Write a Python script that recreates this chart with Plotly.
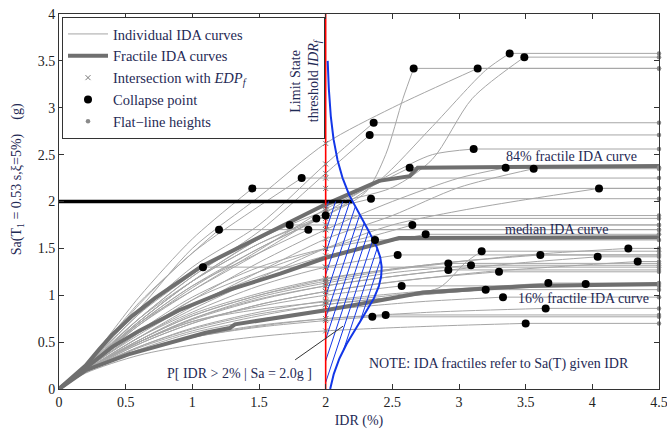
import numpy as np
import plotly.graph_objects as go

# ---------------- data ----------------
# Individual IDA curves: knots of the rising branch (IDR %, Sa g); the last knot is the collapse point
curve_idr = [
    [0, 0.2, 0.6, 1.0, 1.5, 2.0, 2.3, 2.45, 2.58, 2.66],
    [0, 0.2, 0.6, 1.0, 1.5, 2.0, 2.5, 3.14],
    [0, 0.2, 0.6, 1.0, 1.5, 2.0, 2.4, 2.8, 3.2, 3.38],
    [0, 0.2, 0.6, 1.0, 1.5, 2.0, 2.5, 2.8, 3.1, 3.49],
    [0, 0.2, 0.6, 1.0, 1.5, 2.0, 2.36],
    [0, 0.2, 0.6, 1.0, 1.5, 2.0, 2.33],
    [0, 0.2, 0.6, 1.0, 1.5, 2.0, 2.5, 2.8, 3.11],
    [0, 0.2, 0.6, 1.0, 1.5, 2.0, 2.4, 2.63],
    [0, 0.2, 0.6, 1.0, 1.5, 2.0, 2.5, 3.0, 3.35],
    [0, 0.2, 0.6, 1.0, 1.5, 2.0, 2.5, 3.0, 3.56],
    [0, 0.2, 0.6, 1.0, 1.5, 2.0, 2.5, 3.0, 3.5, 4.05],
    [0, 0.2, 0.6, 1.0, 1.45],
    [0, 0.2, 0.6, 1.0, 1.5, 1.82],
    [0, 0.2, 0.6, 1.0, 1.5, 2.0, 2.34],
    [0, 0.2, 0.6, 1.0, 1.2],
    [0, 0.2, 0.6, 1.08],
    [0, 0.2, 0.6, 1.0, 1.4, 1.73],
    [0, 0.2, 0.6, 1.0, 1.5, 1.87],
    [0, 0.2, 0.6, 1.0, 1.5, 1.93],
    [0, 0.2, 0.6, 1.0, 1.5, 2.0],
    [0, 0.2, 0.6, 1.0, 1.5, 2.0, 2.4, 2.65],
    [0, 0.2, 0.6, 1.0, 1.5, 2.0, 2.4, 2.75],
    [0, 0.2, 0.6, 1.0, 1.5, 2.0, 2.37],
    [0, 0.2, 0.6, 1.0, 1.5, 2.0, 2.54],
    [0, 0.2, 0.6, 1.0, 1.5, 2.0, 2.5, 2.85, 3.05, 3.17],
    [0, 0.2, 0.6, 1.0, 1.5, 2.0, 2.5, 3.0, 3.61],
    [0, 0.2, 0.6, 1.0, 1.5, 2.0, 2.5, 2.92],
    [0, 0.2, 0.6, 1.0, 1.5, 2.0, 2.5, 2.92],
    [0, 0.2, 0.6, 1.0, 1.5, 2.0, 2.5, 3.09],
    [0, 0.2, 0.6, 1.0, 1.5, 2.0, 2.6, 3.30],
    [0, 0.2, 0.6, 1.0, 1.5, 2.0, 2.7, 3.67],
    [0, 0.2, 0.6, 1.0, 1.5, 2.0, 2.57],
    [0, 0.2, 0.6, 1.0, 1.5, 2.0, 2.6, 3.20],
    [0, 0.2, 0.6, 1.0, 1.5, 2.0, 2.7, 3.33],
    [0, 0.2, 0.6, 1.0, 1.5, 2.0, 2.8, 3.65],
    [0, 0.2, 0.6, 1.0, 1.5, 2.0, 2.35],
    [0, 0.2, 0.6, 1.0, 1.5, 2.0, 2.45],
    [0, 0.2, 0.6, 1.0, 1.5, 2.0, 2.8, 3.50],
    [0, 0.2, 0.6, 1.0, 1.5, 2.0, 2.5, 3.0, 3.6, 4.27],
    [0, 0.2, 0.6, 1.0, 1.5, 2.0, 2.5, 3.0, 3.5, 4.04],
    [0, 0.2, 0.6, 1.0, 1.5, 2.0, 2.5, 3.2, 3.8, 4.34],
    [0, 0.2, 0.6, 1.0, 1.5, 2.0, 2.6, 3.2, 3.95],
]
curve_sa = [
    [0, 0.24, 0.75, 1.15, 1.55, 1.85, 2.1, 2.5, 3.1, 3.42],
    [0, 0.25, 0.85, 1.5, 2.05, 2.62, 3.0, 3.42],
    [0, 0.22, 0.7, 1.1, 1.5, 1.85, 2.22, 2.8, 3.4, 3.58],
    [0, 0.23, 0.72, 1.15, 1.6, 1.95, 2.15, 2.45, 3.1, 3.54],
    [0, 0.24, 0.8, 1.3, 1.75, 2.4, 2.84],
    [0, 0.22, 0.75, 1.2, 1.68, 2.3, 2.71],
    [0, 0.22, 0.7, 1.05, 1.45, 1.88, 2.3, 2.5, 2.56],
    [0, 0.22, 0.68, 1.05, 1.48, 1.92, 2.2, 2.36],
    [0, 0.21, 0.6, 0.95, 1.35, 1.7, 2.0, 2.25, 2.36],
    [0, 0.2, 0.55, 0.88, 1.25, 1.6, 1.85, 2.15, 2.35],
    [0, 0.2, 0.55, 0.85, 1.18, 1.5, 1.75, 1.9, 2.02, 2.14],
    [0, 0.26, 0.98, 1.6, 2.14],
    [0, 0.24, 0.9, 1.45, 1.95, 2.25],
    [0, 0.22, 0.72, 1.15, 1.6, 1.9, 2.03],
    [0, 0.25, 0.92, 1.45, 1.70],
    [0, 0.24, 0.8, 1.30],
    [0, 0.23, 0.75, 1.2, 1.55, 1.75],
    [0, 0.22, 0.7, 1.1, 1.45, 1.70],
    [0, 0.23, 0.72, 1.15, 1.55, 1.82],
    [0, 0.22, 0.68, 1.08, 1.5, 1.85],
    [0, 0.21, 0.6, 0.95, 1.25, 1.5, 1.65, 1.75],
    [0, 0.21, 0.58, 0.9, 1.2, 1.42, 1.55, 1.65],
    [0, 0.22, 0.62, 0.98, 1.3, 1.5, 1.59],
    [0, 0.2, 0.55, 0.82, 1.1, 1.3, 1.43],
    [0, 0.2, 0.5, 0.72, 0.85, 0.93, 1.0, 1.08, 1.35, 1.47],
    [0, 0.2, 0.52, 0.8, 1.02, 1.18, 1.28, 1.36, 1.43],
    [0, 0.2, 0.52, 0.78, 1.0, 1.15, 1.27, 1.34],
    [0, 0.2, 0.5, 0.74, 0.95, 1.1, 1.2, 1.27],
    [0, 0.2, 0.5, 0.75, 0.98, 1.13, 1.24, 1.32],
    [0, 0.19, 0.48, 0.7, 0.9, 1.04, 1.16, 1.25],
    [0, 0.19, 0.45, 0.65, 0.82, 0.94, 1.04, 1.13],
    [0, 0.2, 0.5, 0.72, 0.88, 1.0, 1.10],
    [0, 0.19, 0.45, 0.64, 0.8, 0.9, 0.99, 1.06],
    [0, 0.19, 0.42, 0.6, 0.74, 0.84, 0.93, 0.98],
    [0, 0.18, 0.4, 0.55, 0.67, 0.75, 0.82, 0.86],
    [0, 0.18, 0.4, 0.55, 0.66, 0.73, 0.77],
    [0, 0.18, 0.41, 0.56, 0.68, 0.75, 0.79],
    [0, 0.17, 0.36, 0.47, 0.56, 0.62, 0.67, 0.70],
    [0, 0.2, 0.52, 0.78, 1.0, 1.17, 1.28, 1.36, 1.44, 1.50],
    [0, 0.2, 0.5, 0.75, 0.96, 1.1, 1.2, 1.28, 1.35, 1.41],
    [0, 0.19, 0.48, 0.7, 0.9, 1.04, 1.14, 1.25, 1.31, 1.36],
    [0, 0.19, 0.44, 0.62, 0.78, 0.9, 0.99, 1.06, 1.12],
]

# Fractile IDA curves
f84_idr = [0, 0.2, 0.3, 0.4, 0.55, 0.72, 1.07, 1.41, 1.66, 2.0, 2.4, 2.63, 2.69, 4.5]
f84_sa = [0, 0.25, 0.42, 0.58, 0.78, 0.97, 1.31, 1.55, 1.72, 1.97, 2.22, 2.27, 2.36, 2.38]
f50_idr = [0, 0.2, 0.4, 0.6, 0.9, 1.28, 1.66, 2.0, 2.4, 2.55, 4.5]
f50_sa = [0, 0.22, 0.45, 0.62, 0.84, 1.06, 1.23, 1.40, 1.56, 1.61, 1.62]
f16_idr = [0, 0.2, 0.52, 1.1, 1.28, 1.32, 2.0, 2.73, 3.53, 4.5]
f16_sa = [0, 0.2, 0.37, 0.6, 0.65, 0.69, 0.84, 1.03, 1.10, 1.12]

idr_max = 4.5
idr_limit = 2.0          # limit-state threshold IDR_f (%)
sa_level = 2.0           # Sa level for P[IDR > 2% | Sa]
# distribution of Sa given IDR = IDR_f (drawn sideways on the threshold line)
dist_mode = 1.28
dist_peak = 0.42
dist_sigma_low = 0.57
dist_scale_high = 0.62
dist_top = 3.5

x_ticks = [0, 0.5, 1, 1.5, 2, 2.5, 3, 3.5, 4, 4.5]
y_ticks = [0, 0.5, 1, 1.5, 2, 2.5, 3, 3.5, 4]

# ---------------- styling ----------------
FONT = "Liberation Serif"
TXT = "#1f2a55"
GRAY_THIN = "#a6a6a6"
GRAY_THICK = "#6f6f6f"
BLUE = "#1236e8"
PAD = '<span style="color:rgba(0,0,0,0)">__________</span>'


def dist_width(y):
    y = np.asarray(y, dtype=float)
    d = y - dist_mode
    low = dist_peak * np.exp(-d ** 2 / (2 * dist_sigma_low ** 2))
    high = dist_peak * (1 + d ** 2 / (3 * dist_scale_high ** 2)) ** -2
    return np.where(d < 0, low, high)


fig = go.Figure()

# individual curves: rising branches
rx, ry = [], []
for xs, ys in zip(curve_idr, curve_sa):
    rx += list(xs) + [None]
    ry += list(ys) + [None]
fig.add_trace(go.Scatter(x=rx, y=ry, mode="lines", line=dict(color=GRAY_THIN, width=1, shape="spline", smoothing=0.8),
                         name="Individual IDA curves", legendrank=1, hoverinfo="skip"))
# flat lines
flx, fly = [], []
for xs, ys in zip(curve_idr, curve_sa):
    flx += [xs[-1], idr_max, None]
    fly += [ys[-1], ys[-1], None]
fig.add_trace(go.Scatter(x=flx, y=fly, mode="lines", line=dict(color=GRAY_THIN, width=1),
                         showlegend=False, hoverinfo="skip"))

# fractile curves
fx = f84_idr + [None] + f50_idr + [None] + f16_idr
fy = f84_sa + [None] + f50_sa + [None] + f16_sa
fig.add_trace(go.Scatter(x=fx, y=fy, mode="lines", line=dict(color=GRAY_THICK, width=4),
                         name="Fractile IDA curves", legendrank=2, hoverinfo="skip"))

# black horizontal line at Sa level up to the distribution curve
fig.add_trace(go.Scatter(x=[0, idr_limit + float(dist_width(sa_level))], y=[sa_level, sa_level], mode="lines",
                         line=dict(color="black", width=3.5), showlegend=False, hoverinfo="skip"))

# hatch inside the distribution between 0 and sa_level
m = 4.3
hx, hy = [], []
ys_f = np.linspace(0, sa_level, 1601)
wf = dist_width(ys_f)
for c in np.arange(-2.0, sa_level, 0.23):
    xo = (ys_f - c) / m
    ok = (xo >= 0) & (xo <= wf)
    if ok.sum() < 2:
        continue
    idx = np.where(ok)[0]
    runs = np.split(idx, np.where(np.diff(idx) > 1)[0] + 1)
    for r in runs:
        if len(r) < 2:
            continue
        hx += [idr_limit + xo[r[0]], idr_limit + xo[r[-1]], None]
        hy += [ys_f[r[0]], ys_f[r[-1]], None]
fig.add_trace(go.Scatter(x=hx, y=hy, mode="lines", line=dict(color=BLUE, width=1),
                         showlegend=False, hoverinfo="skip"))

# red threshold line
fig.add_trace(go.Scatter(x=[idr_limit, idr_limit], y=[0, 4], mode="lines", line=dict(color="#ff0000", width=1.6),
                         showlegend=False, hoverinfo="skip"))

# blue distribution curve
yb = np.linspace(0, dist_top, 300)
fig.add_trace(go.Scatter(x=idr_limit + dist_width(yb), y=yb, mode="lines", line=dict(color=BLUE, width=2),
                         showlegend=False, hoverinfo="skip"))

# intersections with EDP_f
ix, iy = [], []
for xs, ys in zip(curve_idr, curve_sa):
    ix.append(idr_limit)
    iy.append(float(np.interp(idr_limit, list(xs) + [idr_max], list(ys) + [ys[-1]])))
fig.add_trace(go.Scatter(x=ix, y=iy, mode="markers",
                         marker=dict(symbol="x-thin", size=5, color="#7a7a7a", line=dict(width=1, color="#7a7a7a")),
                         name="Intersection with <i>EDP<sub>f</sub></i>" + PAD, legendrank=3, hoverinfo="skip"))

# collapse points
fig.add_trace(go.Scatter(x=[xs[-1] for xs in curve_idr], y=[ys[-1] for ys in curve_sa], mode="markers",
                         marker=dict(size=8, color="black"), name="Collapse point", legendrank=4,
                         cliponaxis=False, hoverinfo="skip"))

# flat-line heights
fig.add_trace(go.Scatter(x=[idr_max] * len(curve_sa), y=[ys[-1] for ys in curve_sa], mode="markers",
                         marker=dict(size=4.5, color="#8a8a8a"), name="Flat\u2212line heights", legendrank=5,
                         cliponaxis=False, hoverinfo="skip"))

axis_common = dict(showline=True, linecolor="#333", linewidth=1, mirror="ticks", ticks="inside", ticklen=5,
                   tickcolor="#333", showgrid=False, zeroline=False, automargin=False, ticklabeloverflow="allow",
                   tickfont=dict(family=FONT, size=14, color="#222"))

fig.update_layout(
    width=667, height=437,
    margin=dict(l=59, r=8, t=14, b=48, autoexpand=False),
    plot_bgcolor="white", paper_bgcolor="white",
    font=dict(family=FONT, size=14, color="#222"),
    xaxis=dict(range=[0, idr_max], tickvals=x_ticks, ticktext=[f"{v:g}" for v in x_ticks],
               title=dict(text="IDR (%)", font=dict(family=FONT, size=14, color=TXT), standoff=6), **axis_common),
    yaxis=dict(range=[0, 4], tickvals=y_ticks, ticktext=[f"{v:g}" for v in y_ticks], **axis_common),
    legend=dict(x=0.005, y=0.992, xanchor="left", yanchor="top", bgcolor="white", bordercolor="#333",
                borderwidth=1, font=dict(family=FONT, size=14.5, color=TXT), tracegroupgap=0, itemwidth=40),
    showlegend=True,
)

ann = dict(showarrow=False, font=dict(family=FONT, size=14, color=TXT))
fig.add_annotation(x=-0.068, y=0.56, xref="paper", yref="paper", xanchor="center", yanchor="middle",
                   textangle=-90, text="Sa(T<sub>1</sub> = 0.53 s,\u03be=5%)    (g)", **ann)
fig.add_annotation(x=1.85, y=3.29, textangle=-90, text="Limit State<br>threshold <i>IDR<sub>f</sub></i>", **ann)
fig.add_annotation(x=3.84, y=2.48, text="84% fractile IDA curve", **ann)
fig.add_annotation(x=3.73, y=1.70, text="median IDA curve", **ann)
fig.add_annotation(x=3.93, y=0.97, text="16% fractile IDA curve", **ann)
fig.add_annotation(x=3.30, y=0.27, text="NOTE: IDA fractiles refer to Sa(T) given IDR", **ann)
fig.add_annotation(x=1.35, y=0.17, text="P[ IDR > 2% | Sa = 2.0g ]", **ann)
fig.add_annotation(x=2.13, y=0.67, ax=1.76, ay=0.30, axref="x", ayref="y", xref="x", yref="y", text="",
                   showarrow=True, arrowhead=0, arrowwidth=1, arrowcolor="#333")

# remove the default page margin so the figure fills the 667x437 window exactly
fig.write_html("out.html", config={"displayModeBar": False},
               post_script="document.body.style.margin='0';")
